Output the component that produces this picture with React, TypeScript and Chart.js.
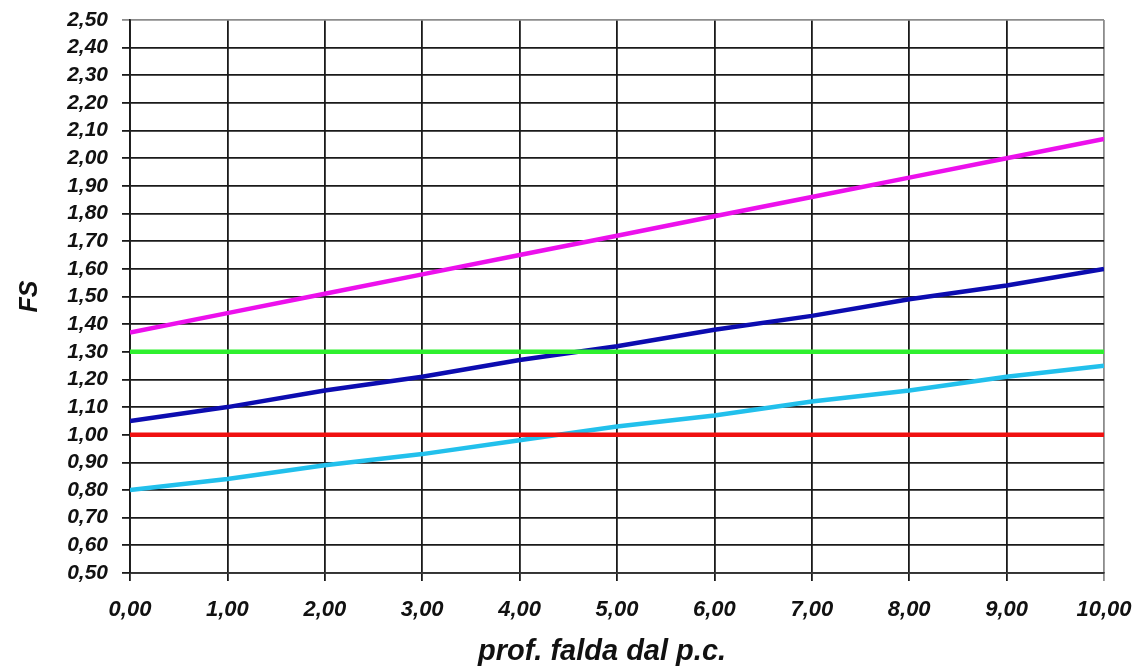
import React, { useEffect, useRef } from "react";
import { Chart, registerables } from "chart.js";

Chart.register(...registerables);

// Depth of the water table below ground level (m)
const depth = [0, 1, 2, 3, 4, 5, 6, 7, 8, 9, 10];

// Safety factor curves
const fsUpper = [1.37, 1.44, 1.51, 1.58, 1.65, 1.72, 1.79, 1.86, 1.93, 2.0, 2.07];
const fsMiddle = [1.05, 1.1, 1.16, 1.21, 1.27, 1.32, 1.38, 1.43, 1.49, 1.54, 1.6];
const fsLower = [0.8, 0.84, 0.89, 0.93, 0.98, 1.03, 1.07, 1.12, 1.16, 1.21, 1.25];

// Reference thresholds
const fsLimit130 = [1.3, 1.3, 1.3, 1.3, 1.3, 1.3, 1.3, 1.3, 1.3, 1.3, 1.3];
const fsLimit100 = [1.0, 1.0, 1.0, 1.0, 1.0, 1.0, 1.0, 1.0, 1.0, 1.0, 1.0];

const xTitle = "prof. falda dal p.c.";
const yTitle = "FS";

const fmt = (v: number) => Number(v).toFixed(2).replace(".", ",");

const FONT = "'Liberation Sans', Arial, sans-serif";

// Draws the x-axis title slightly left of the plot centre, under the tick labels
const xTitlePlugin = {
  id: "xTitle",
  afterDraw(chart: any) {
    const { ctx, chartArea } = chart;
    ctx.save();
    ctx.font = `italic bold 29px ${FONT}`;
    ctx.fillStyle = "#111";
    ctx.textAlign = "center";
    ctx.textBaseline = "alphabetic";
    ctx.fillText(xTitle, (chartArea.left + chartArea.right) / 2 - 15, chart.height - 7);
    ctx.restore();
  },
};

export default function App() {
  const ref = useRef<HTMLCanvasElement | null>(null);

  useEffect(() => {
    if (!ref.current) return;
    const pts = (ys: number[]) => depth.map((x, i) => ({ x, y: ys[i] }));
    const line = (data: number[], color: string) => ({
      data: pts(data),
      borderColor: color,
      backgroundColor: color,
      borderWidth: 4.5,
      pointRadius: 0,
      tension: 0,
      fill: false,
    });

    const gridColor = (max: number) => (ctx: any) =>
      ctx.tick && Math.abs(ctx.tick.value - max) < 1e-6 ? "#8c8c8c" : "#1a1a1a";

    const chart = new Chart(ref.current, {
      type: "line",
      data: {
        datasets: [
          line(fsLimit100, "#f01010"),
          line(fsLimit130, "#2ef02e"),
          line(fsUpper, "#ec10ec"),
          line(fsMiddle, "#0c0cb0"),
          line(fsLower, "#22c0ec"),
        ],
      },
      plugins: [xTitlePlugin],
      options: {
        responsive: false,
        animation: false,
        devicePixelRatio: 1,
        layout: { padding: { left: 0, top: 20, right: 28, bottom: 0 } },
        plugins: { legend: { display: false }, tooltip: { enabled: false } },
        scales: {
          x: {
            type: "linear",
            min: 0,
            max: 10,
            afterFit: (s: any) => {
              s.height = 94;
              s.paddingLeft = 0;
              s.paddingRight = 0;
            },
            ticks: {
              stepSize: 1,
              autoSkip: false,
              padding: 16,
              color: "#111",
              font: { family: FONT, size: 22, weight: "bold", style: "italic" },
              callback: (v: any) => fmt(v),
              maxRotation: 0,
            },
            grid: {
              color: gridColor(10),
              lineWidth: 1.8,
              tickLength: 8,
            },
            border: { color: "#333", width: 1.8 },
            title: { display: false },
          },
          y: {
            type: "linear",
            min: 0.5,
            max: 2.5,
            afterFit: (s: any) => {
              s.width = 130;
              s.paddingTop = 0;
              s.paddingBottom = 0;
            },
            ticks: {
              stepSize: 0.1,
              autoSkip: false,
              padding: 14,
              color: "#111",
              font: { family: FONT, size: 21, weight: "bold", style: "italic" },
              callback: (v: any) => fmt(v),
            },
            grid: {
              color: gridColor(2.5),
              lineWidth: 1.8,
              tickLength: 8,
            },
            border: { color: "#1a1a1a", width: 1.8 },
            title: {
              display: true,
              text: yTitle,
              color: "#111",
              padding: { top: 18, bottom: 0 },
              font: { family: FONT, size: 25, weight: "bold", style: "italic", lineHeight: 1 },
            },
          },
        },
      },
    } as any);
    return () => chart.destroy();
  }, []);

  return (
    <div style={{ position: "absolute", left: 0, top: 0, width: 1132, height: 667, background: "#fff" }}>
      <canvas ref={ref} width={1132} height={667} style={{ display: "block" }} />
    </div>
  );
}
